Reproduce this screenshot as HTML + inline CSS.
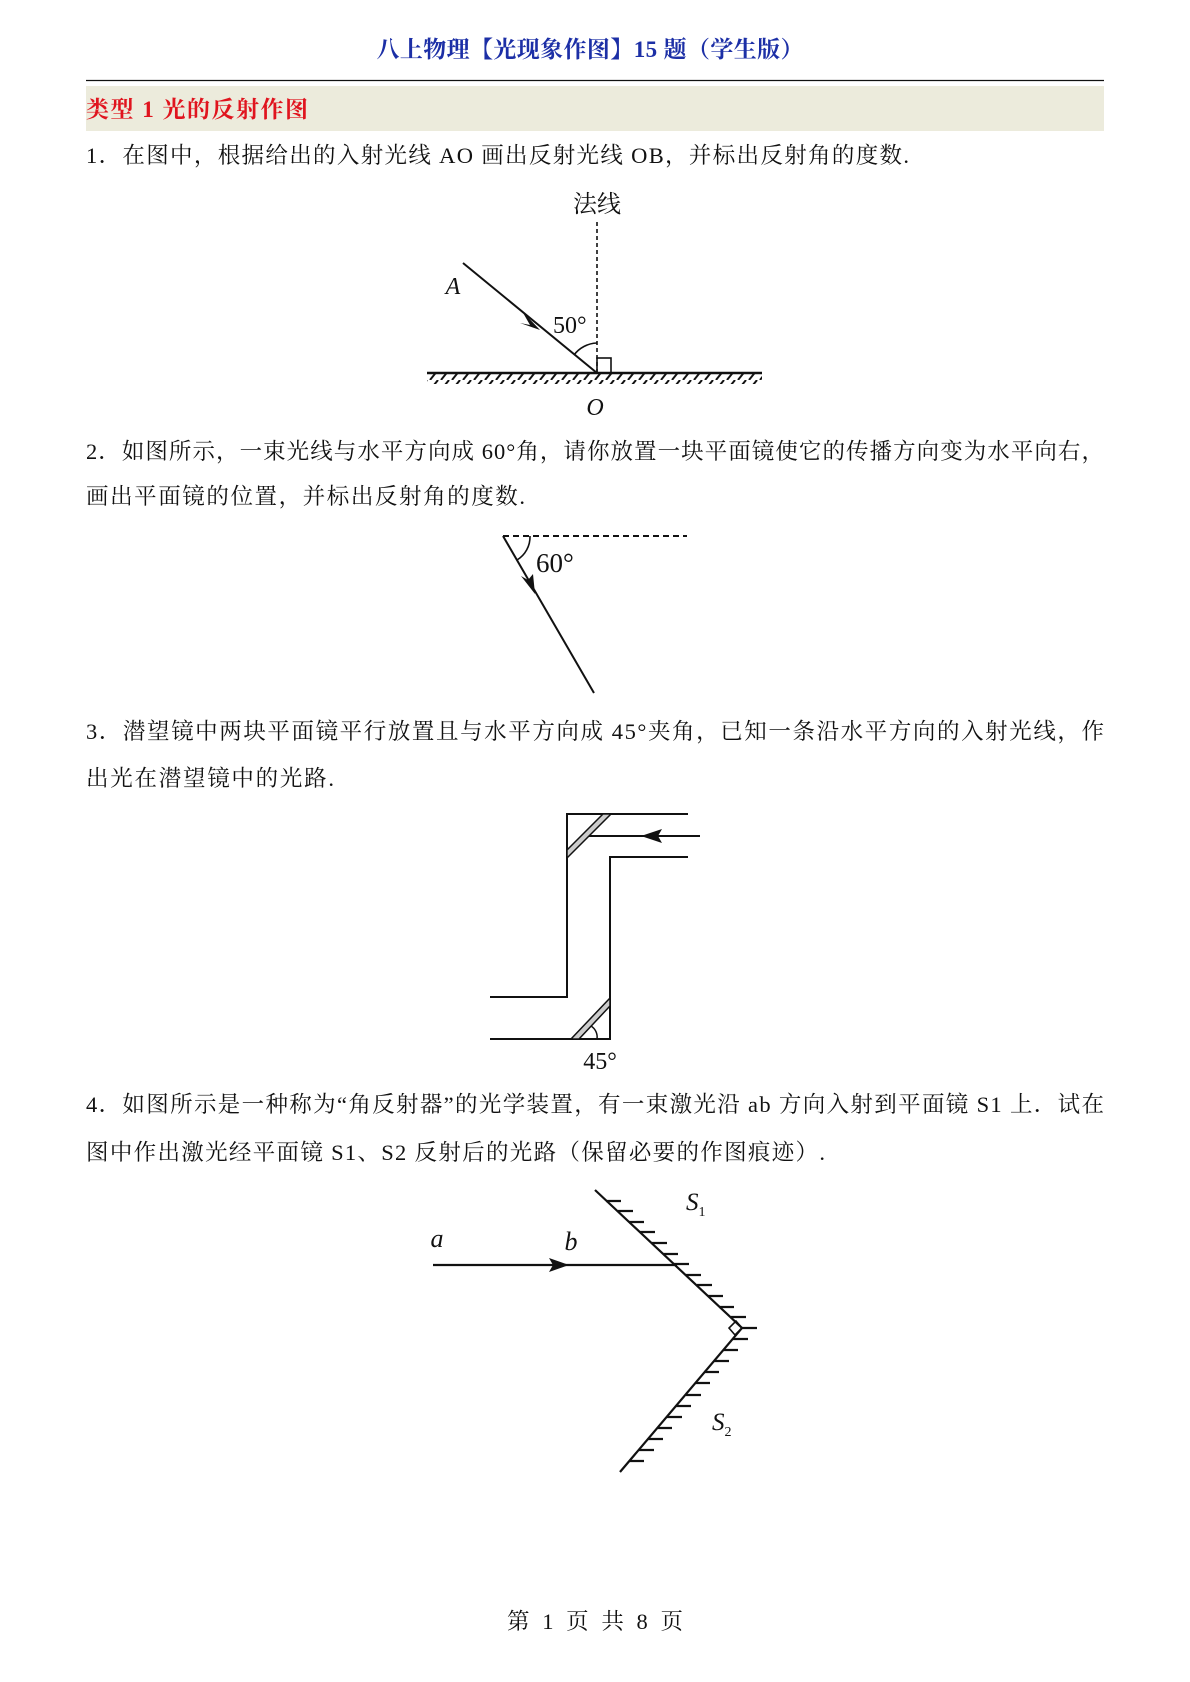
<!DOCTYPE html>
<html><head><meta charset="utf-8"><style>
html,body{margin:0;padding:0;background:#fff;}
svg{display:block;}
.t{font-family:"Liberation Serif","Noto Serif CJK SC",serif;font-size:22.5px;fill:#111;}
</style></head><body>
<svg width="1190" height="1682" viewBox="0 0 1190 1682" xmlns="http://www.w3.org/2000/svg">
<defs>
<pattern id="h" width="11" height="10" patternUnits="userSpaceOnUse">
<line x1="9" y1="0" x2="1" y2="10" stroke="#111" stroke-width="2"/>
</pattern>
</defs>
<text x="590" y="57" text-anchor="middle" textLength="427" style="font-family:'Liberation Serif','Noto Serif CJK SC',serif;font-size:23px;font-weight:bold;fill:#1c2fa6">八上物理【光现象作图】15 题（学生版）</text>
<line x1="86" y1="80.5" x2="1104" y2="80.5" stroke="#111" stroke-width="1.2"/>
<rect x="86" y="86" width="1018" height="45" fill="#ecebdc"/>
<text x="86" y="117" textLength="222" style="font-family:'Liberation Serif','Noto Serif CJK SC',serif;font-size:23px;font-weight:bold;fill:#e0141e">类型 1  光的反射作图</text>

<text class="t" x="86" y="163" textLength="823">1．在图中，根据给出的入射光线 AO 画出反射光线 OB，并标出反射角的度数.</text>

<!-- fig1 -->
<text class="t" x="597" y="212" text-anchor="middle" style="font-size:24px">法线</text>
<line x1="597" y1="222" x2="597" y2="373" stroke="#111" stroke-width="1.6" stroke-dasharray="4,3"/>
<rect x="427" y="374" width="335" height="10" fill="url(#h)"/>
<line x1="427" y1="373" x2="762" y2="373" stroke="#111" stroke-width="2.4"/>
<line x1="463" y1="263" x2="597" y2="373" stroke="#111" stroke-width="2"/>
<polygon points="540,330 522,311 530,325 520,323" fill="#111"/>
<rect x="597" y="358" width="14" height="15" fill="none" stroke="#111" stroke-width="1.6"/>
<path d="M574,355 A30,30 0 0 1 597,343" fill="none" stroke="#111" stroke-width="1.6"/>
<text x="453" y="294" text-anchor="middle" style="font-family:'Liberation Serif',serif;font-style:italic;font-size:24px;fill:#111">A</text>
<text x="553" y="333" style="font-family:'Liberation Serif',serif;font-size:24px;fill:#111">50°</text>
<text x="595" y="415" text-anchor="middle" style="font-family:'Liberation Serif',serif;font-style:italic;font-size:24px;fill:#111">O</text>

<text class="t" x="86" y="459" textLength="1018">2．如图所示，一束光线与水平方向成 60°角，请你放置一块平面镜使它的传播方向变为水平向右，</text>
<text class="t" x="86" y="504" textLength="439">画出平面镜的位置，并标出反射角的度数.</text>

<!-- fig2 -->
<line x1="503" y1="536" x2="687" y2="536" stroke="#111" stroke-width="2" stroke-dasharray="6,4"/>
<line x1="503" y1="536" x2="594" y2="693" stroke="#111" stroke-width="2"/>
<polygon points="535,594 521,576 528,580 533,574" fill="#111"/>
<path d="M530,536 A27,27 0 0 1 517,560" fill="none" stroke="#111" stroke-width="1.6"/>
<text x="536" y="572" style="font-family:'Liberation Serif',serif;font-size:27px;fill:#111">60°</text>

<text class="t" x="86" y="739" textLength="1018">3．潜望镜中两块平面镜平行放置且与水平方向成 45°夹角，已知一条沿水平方向的入射光线，作</text>
<text class="t" x="86" y="786" textLength="248">出光在潜望镜中的光路.</text>

<!-- fig3 -->
<g stroke="#111" stroke-width="2" fill="none">
<polyline points="688,814 567,814 567,997 490,997"/>
<polyline points="490,1039 610,1039 610,857 688,857"/>
<line x1="700" y1="836" x2="588" y2="836"/>
</g>
<polygon points="567,850 603,814 611,814 567,858" fill="#ccc" stroke="#111" stroke-width="1.5"/>
<polygon points="571,1039 610,998 610,1006 579,1039" fill="#ccc" stroke="#111" stroke-width="1.5"/>
<polygon points="641,836 662,829 658,836 662,843" fill="#111"/>
<path d="M591,1026 A13,13 0 0 1 597,1039" fill="none" stroke="#111" stroke-width="1.5"/>
<text x="600" y="1069" text-anchor="middle" style="font-family:'Liberation Serif',serif;font-size:24px;fill:#111">45°</text>

<text class="t" x="86" y="1112" textLength="1018">4．如图所示是一种称为“角反射器”的光学装置，有一束激光沿 ab 方向入射到平面镜 S1 上．试在</text>
<text class="t" x="86" y="1160" textLength="739">图中作出激光经平面镜 S1、S2 反射后的光路（保留必要的作图痕迹）.</text>

<!-- fig4 -->
<g stroke="#111" stroke-width="2.2" fill="none">
<line x1="433" y1="1265" x2="677" y2="1265"/>
<polyline points="595,1190 742,1328 620,1472"/>
<path d="M606,1201h15M618,1211h15M629,1222h15M640,1232h15M652,1243h15M663,1254h15M674,1264h15M686,1275h15M697,1285h15M708,1296h15M719,1307h15M731,1317h15M742,1328h15M733,1339h15M723,1350h15M714,1361h15M704,1372h15M695,1383h15M686,1395h15M676,1406h15M667,1417h15M657,1428h15M648,1439h15M639,1450h15M629,1461h15"/>
<polygon points="742,1328 736,1321 729,1328 735,1335" stroke-width="1.6"/>
</g>
<polygon points="569,1265 549,1258 553,1265 549,1272" fill="#111"/>
<text x="437" y="1247" text-anchor="middle" style="font-family:'Liberation Serif',serif;font-style:italic;font-size:26px;fill:#111">a</text>
<text x="571" y="1250" text-anchor="middle" style="font-family:'Liberation Serif',serif;font-style:italic;font-size:26px;fill:#111">b</text>
<text x="686" y="1210" style="font-family:'Liberation Serif',serif;font-style:italic;font-size:25px;fill:#111">S<tspan dy="6" font-size="14" font-style="normal">1</tspan></text>
<text x="712" y="1430" style="font-family:'Liberation Serif',serif;font-style:italic;font-size:25px;fill:#111">S<tspan dy="6" font-size="14" font-style="normal">2</tspan></text>

<text class="t" x="507" y="1629" textLength="176">第 1 页 共 8 页</text>
</svg>
</body></html>
